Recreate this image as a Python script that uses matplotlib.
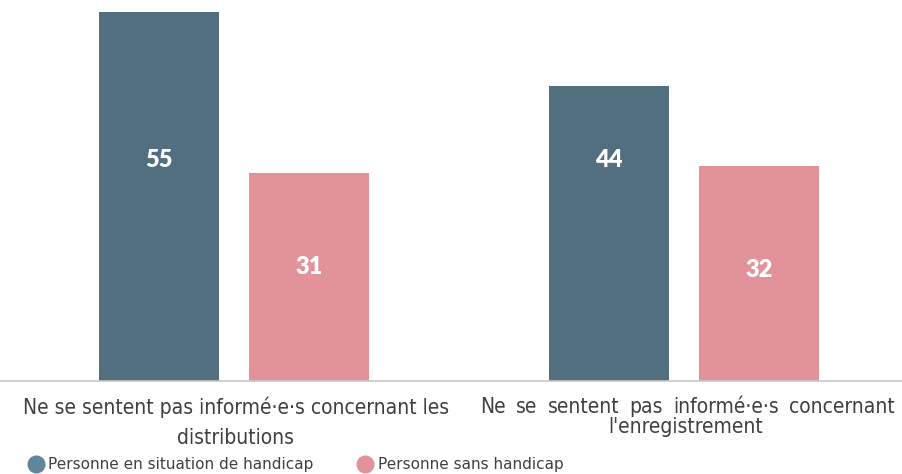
import numpy as np
import matplotlib.pyplot as plt
import matplotlib.transforms as mtransforms
from matplotlib.lines import Line2D

categories = ["Ne se sentent pas informé·e·s concernant les\ndistributions",
              "Ne se sentent pas informé·e·s concernant\nl'enregistrement"]
series_names = ["Personne en situation de handicap", "Personne sans handicap"]
handicap = [55, 44]
sans_handicap = [31, 32]

colors = ["#526f7f", "#e2939a"]
legend_colors = ["#5f869c", "#e2939a"]
# vertical spot of the value label inside each bar (data units)
label_y = [[33, 33], [17, 16.5]]

plt.rcParams["font.family"] = ["DejaVu Sans"]

fig = plt.figure(figsize=(9.02, 4.74), dpi=100)
ax = fig.add_axes([0, 1 - 381 / 474, 1, 381 / 474])

x = np.arange(len(categories))
w = 0.267
off = 0.167
for k, vals in enumerate([handicap, sans_handicap]):
    pos = x + (-off if k == 0 else off)
    ax.bar(pos, vals, width=w, color=colors[k])
    for p, v, ly in zip(pos, vals, label_y[k]):
        ax.text(p, ly, str(v), ha="center", va="center", color="white",
                fontsize=17, fontweight="heavy", family=["Lato", "DejaVu Sans"])

ax.set_xlim(-0.52, 1.484)
ax.set_ylim(0, 381 / 6.71)
for s in ["top", "right", "left"]:
    ax.spines[s].set_visible(False)
ax.spines["bottom"].set_color("#c8c8c8")
ax.spines["bottom"].set_linewidth(1.2)
ax.set_xticks([])
ax.set_yticks([])

cat_font = dict(fontsize=15, color="#404040", fontstretch="condensed",
                family=["DejaVu Sans"])
trans = mtransforms.blended_transform_factory(ax.transData, fig.transFigure)
# category labels (first one has a looser line spacing in the original)
l1, l2 = categories[0].split("\n")
ax.text(0.004, 1 - 407 / 474, l1, transform=trans, ha="center", va="center", **cat_font)
ax.text(0.004, 1 - 438 / 474, l2, transform=trans, ha="center", va="center", **cat_font)

# second label: first line is justified across the group width
m1, m2 = categories[1].split("\n")
words = m1.split(" ")
fig.canvas.draw()
renderer = fig.canvas.get_renderer()
left_px, right_px = 480, 895
tmp = [fig.text(0, 0, wd, **cat_font) for wd in words]
widths = [t.get_window_extent(renderer).width for t in tmp]
for t in tmp:
    t.remove()
gap = (right_px - left_px - sum(widths)) / (len(words) - 1)
xpos = left_px
for wd, wdt in zip(words, widths):
    fig.text(xpos / 902, 1 - 407 / 474, wd, ha="left", va="center", **cat_font)
    xpos += wdt + gap
ax.text(1.004, 1 - 427 / 474, m2, transform=trans, ha="center", va="center", **cat_font)

handles = [Line2D([], [], marker="o", linestyle="", markersize=12,
                  markerfacecolor=c, markeredgecolor=c) for c in legend_colors]
fig.legend(handles, series_names, loc="lower left", bbox_to_anchor=(0.016, -0.025),
           ncol=2, frameon=False, fontsize=11, handletextpad=0.3,
           handlelength=1.0, columnspacing=2.9, labelcolor="#404040")

fig.savefig("out.png", dpi=100)
